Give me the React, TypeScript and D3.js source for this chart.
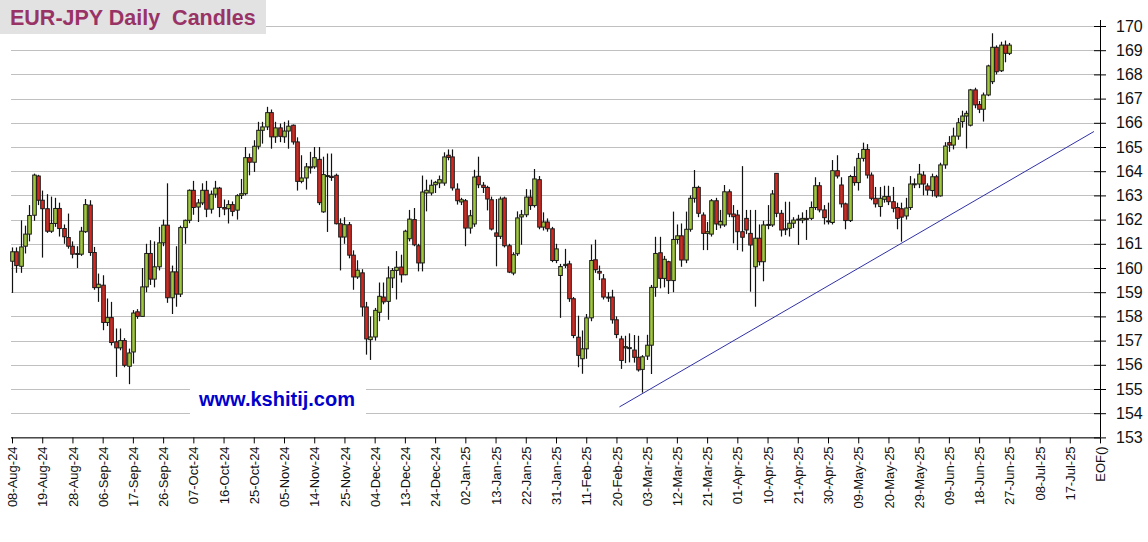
import { useEffect, useRef } from 'react';
import * as d3 from 'd3';

// trading-day index 0 = 08-Aug-24, one candle per weekday up to 27-Jun-25
const opens = [
  160.28, 160.67, 160.07, 160.9, 161.4, 162.18, 163.8, 162.8, 162.45, 161.52,
  161.84, 162.46, 161.63, 161.26, 160.9, 160.6, 160.57, 161.5, 162.6, 160.64,
  159.19, 159.29, 157.75, 157.95, 156.95, 156.7, 157.0, 155.94, 156.53, 158.19,
  158.0, 159.22, 160.6, 159.54, 160.05, 161.04, 161.77, 158.77, 159.84, 158.92,
  161.67, 161.97, 163.21, 162.52, 162.69, 163.21, 162.43, 163.05, 163.3, 162.5,
  162.45, 162.62, 162.39, 163.0, 163.07, 164.56, 164.37, 165.03, 165.69, 165.83,
  166.42, 165.42, 165.79, 165.42, 165.66, 165.9, 165.21, 163.58, 163.72, 164.18,
  164.18, 164.49, 162.32, 163.79, 163.79, 163.83, 161.83, 161.28, 161.79, 160.53,
  159.63, 159.8, 158.39, 157.04, 157.15, 158.17, 158.8, 158.62, 159.59, 159.9,
  160.04, 159.72, 161.21, 162.0, 160.92, 160.21, 163.1, 163.1, 163.44, 163.51,
  163.51, 164.66, 164.59, 163.26, 162.73, 162.78, 161.65, 161.82, 163.79, 163.42,
  163.33, 162.82, 161.45, 161.31, 162.89, 160.92, 159.79, 160.59, 162.11, 162.2,
  162.93, 162.58, 163.65, 161.69, 161.9, 161.62, 160.31, 159.69, 160.1, 160.17,
  158.73, 157.14, 156.25, 156.66, 157.94, 160.34, 159.86, 159.55, 158.8, 158.8,
  157.86, 157.07, 156.7, 156.7, 156.61, 156.31, 155.81, 156.36, 156.81, 159.2,
  160.63, 159.57, 160.26, 159.48, 161.18, 161.33, 160.33, 161.6, 162.88, 163.33,
  162.19, 161.43, 161.4, 162.78, 161.78, 161.78, 163.15, 162.23, 162.19, 161.5,
  162.05, 161.43, 160.05, 161.23, 160.26, 161.78, 161.78, 163.91, 162.26, 161.58,
  161.64, 161.85, 162.02, 161.98, 162.05, 162.05, 162.5, 163.4, 162.4, 161.95,
  161.88, 164.02, 163.43, 162.65, 161.96, 163.78, 163.53, 164.53, 164.9, 163.84,
  162.88, 162.54, 162.84, 162.95, 162.74, 162.5, 162.45, 162.15, 162.5, 163.45,
  163.47, 163.84, 163.39, 163.2, 163.77, 162.98, 164.26, 165.18, 165.08, 165.45,
  166.05, 166.28, 165.9, 167.36, 166.76, 166.56, 167.15, 167.7, 169.12, 168.15,
  169.21, 168.87,
];

const highs = [
  160.85, 160.85, 161.97, 161.75, 162.6, 163.9, 163.85, 163.2, 163.05, 162.95,
  162.9, 162.7, 161.8, 162.25, 161.1, 160.9, 161.7, 162.85, 162.8, 160.87,
  159.77, 159.7, 158.74, 158.6, 157.5, 157.5, 157.1, 156.67, 158.26, 158.3,
  160.0, 161.0, 161.15, 161.1, 161.7, 162.0, 163.5, 160.1, 160.9, 161.75,
  162.0, 163.25, 163.6, 162.85, 163.5, 163.6, 163.2, 163.6, 163.35, 162.83,
  162.8, 162.75, 163.05, 163.68, 165.0, 164.73, 165.28, 166.04, 166.04, 166.66,
  166.55, 166.04, 165.97, 166.04, 166.1, 165.93, 165.4, 164.66, 164.34, 164.8,
  165.0, 165.0, 164.6, 164.73, 164.73, 163.9, 162.05, 162.1, 161.9, 160.73,
  160.32, 159.95, 158.6, 158.0, 158.35, 159.4, 159.4, 160.07, 160.0, 160.7,
  160.55, 161.58, 162.4, 162.48, 161.0, 163.82, 163.65, 163.65, 163.6, 163.82,
  164.78, 164.9, 164.9, 163.5, 162.9, 162.85, 162.4, 164.06, 164.6, 163.55,
  163.4, 162.95, 162.85, 162.95, 162.95, 161.0, 160.65, 162.34, 162.4, 163.26,
  163.24, 164.09, 163.8, 162.3, 162.05, 161.7, 161.0, 160.17, 160.79, 160.3,
  158.8, 158.03, 157.42, 158.1, 160.97, 161.17, 160.1, 159.75, 159.0, 159.1,
  158.0, 157.2, 157.2, 157.3, 157.23, 157.2, 156.4, 157.24, 159.3, 161.29,
  161.29, 160.5, 160.3, 162.33, 161.8, 161.84, 162.33, 163.0, 164.05, 163.4,
  162.3, 161.9, 162.85, 162.9, 162.4, 163.43, 163.25, 162.6, 162.4, 164.21,
  162.4, 162.4, 162.4, 161.8, 161.95, 162.6, 163.22, 163.91, 162.4, 162.74,
  162.74, 162.1, 162.2, 162.3, 162.4, 162.75, 163.75, 163.55, 162.6, 162.7,
  164.46, 164.66, 163.75, 162.7, 163.85, 164.2, 164.75, 165.18, 165.12, 163.95,
  163.35, 163.35, 163.4, 163.4, 163.35, 162.7, 162.7, 162.9, 163.8, 163.7,
  164.3, 164.0, 163.5, 163.9, 163.85, 164.35, 165.2, 165.45, 165.8, 166.2,
  166.5, 166.5, 167.4, 167.45, 166.9, 167.25, 168.4, 169.7, 169.2, 169.35,
  169.4, 169.3,
];

const lows = [
  158.97, 159.8, 159.8, 160.6, 161.1, 161.95, 162.6, 160.43, 161.45, 161.45,
  161.7, 161.3, 161.0, 160.8, 160.4, 160.0, 160.5, 161.45, 160.5, 159.1,
  158.6, 157.43, 157.6, 156.8, 155.5, 156.6, 155.9, 155.2, 156.05, 157.9,
  158.44, 159.0, 159.3, 159.2, 159.9, 160.9, 158.56, 158.1, 158.4, 158.8,
  161.0, 161.85, 162.2, 161.9, 162.6, 162.1, 162.25, 162.9, 162.1, 162.18,
  161.84, 162.14, 162.0, 162.85, 163.0, 163.83, 163.97, 164.9, 165.14, 165.7,
  164.93, 165.17, 165.2, 165.17, 164.93, 165.1, 163.2, 163.5, 163.24, 163.9,
  164.1, 162.6, 162.28, 161.49, 163.6, 161.8, 159.9, 161.0, 160.4, 159.1,
  159.55, 158.0, 156.42, 156.2, 157.0, 157.8, 158.5, 157.86, 159.17, 158.7,
  159.4, 159.7, 161.1, 160.9, 159.86, 159.86, 162.34, 163.0, 163.1, 163.3,
  163.4, 164.45, 163.2, 162.62, 162.6, 160.9, 161.42, 161.7, 163.3, 163.1,
  162.38, 161.55, 160.07, 161.2, 160.85, 159.79, 159.7, 160.5, 160.96, 162.1,
  162.4, 162.5, 161.6, 161.55, 161.5, 160.24, 160.2, 157.94, 160.0, 158.6,
  157.1, 155.9, 155.63, 156.25, 157.8, 159.8, 159.5, 158.7, 158.6, 157.7,
  157.1, 155.83, 156.07, 156.1, 156.09, 155.72, 154.85, 156.2, 155.62, 158.81,
  159.16, 159.2, 158.93, 159.0, 161.0, 160.05, 160.2, 161.5, 162.7, 162.1,
  160.74, 160.74, 161.3, 161.57, 161.64, 161.7, 162.1, 161.02, 160.74, 160.68,
  161.4, 159.02, 158.4, 160.1, 159.45, 161.6, 161.7, 162.1, 161.3, 161.36,
  161.3, 161.65, 160.95, 161.85, 161.16, 161.98, 162.4, 162.3, 161.8, 161.8,
  161.8, 163.7, 162.5, 161.6, 161.9, 163.4, 163.2, 164.4, 163.7, 162.8,
  162.5, 162.12, 162.7, 162.6, 162.3, 161.6, 161.09, 162.0, 162.4, 163.3,
  163.3, 163.0, 163.0, 162.95, 162.9, 162.95, 164.1, 164.8, 164.9, 165.3,
  165.8, 164.94, 165.85, 166.6, 166.4, 166.05, 167.1, 167.6, 168.0, 168.1,
  168.5, 168.8,
];

const closes = [
  160.67, 160.1, 160.87, 161.4, 162.17, 163.84, 162.8, 162.45, 161.52, 161.84,
  162.46, 161.63, 161.29, 160.9, 160.57, 160.6, 161.52, 162.62, 160.64, 159.19,
  159.33, 157.75, 157.95, 156.92, 156.7, 157.0, 155.98, 156.49, 158.14, 158.0,
  159.22, 160.6, 159.54, 160.05, 161.04, 161.77, 158.77, 159.84, 158.92, 161.67,
  161.97, 163.21, 162.5, 162.69, 163.21, 162.43, 163.05, 163.3, 162.5, 162.44,
  162.62, 162.34, 162.99, 163.07, 164.56, 164.37, 165.03, 165.69, 165.83, 166.42,
  165.42, 165.79, 165.44, 165.66, 165.86, 165.21, 163.58, 163.72, 164.18, 164.15,
  164.56, 162.7, 163.86, 163.82, 163.74, 161.83, 161.28, 161.79, 160.53, 159.63,
  159.91, 158.39, 157.07, 157.15, 158.25, 158.83, 158.6, 159.59, 159.9, 160.03,
  159.72, 161.52, 162.02, 160.96, 160.21, 163.14, 163.21, 163.42, 163.54, 163.65,
  164.59, 164.57, 163.31, 162.78, 162.82, 161.65, 162.16, 163.76, 163.44, 163.33,
  162.85, 161.61, 161.31, 162.85, 160.92, 159.83, 160.55, 162.07, 162.2, 162.93,
  162.58, 163.68, 161.69, 161.9, 161.62, 160.31, 160.79, 160.06, 160.15, 158.73,
  157.21, 156.39, 156.66, 157.94, 160.31, 159.93, 159.79, 158.8, 158.76, 157.86,
  157.25, 156.18, 156.75, 156.71, 156.31, 155.79, 156.33, 156.81, 159.2, 160.6,
  159.57, 160.36, 159.48, 161.18, 161.33, 160.33, 161.6, 162.88, 163.33, 162.26,
  161.43, 161.5, 162.78, 161.82, 161.92, 163.15, 162.23, 162.12, 161.5, 161.27,
  161.57, 160.95, 161.23, 160.26, 161.78, 161.8, 163.06, 162.26, 161.57, 161.62,
  161.85, 161.98, 161.98, 162.05, 162.0, 162.5, 163.4, 162.4, 162.08, 161.91,
  164.02, 163.8, 162.65, 161.96, 163.78, 163.53, 164.53, 164.9, 163.84, 162.88,
  162.65, 162.88, 162.95, 162.74, 162.47, 162.05, 162.1, 162.48, 163.47, 163.48,
  163.88, 163.47, 163.22, 163.77, 162.98, 164.26, 165.04, 165.08, 165.45, 166.0,
  166.28, 166.39, 167.36, 166.74, 166.56, 167.15, 168.35, 169.12, 168.11, 169.21,
  168.87, 169.21,
];

// x-axis labels, one every 7 weekdays, then the end-of-file marker
const tickLabels = [
  '08-Aug-24', '19-Aug-24', '28-Aug-24', '06-Sep-24', '17-Sep-24', '26-Sep-24',
  '07-Oct-24', '16-Oct-24', '25-Oct-24', '05-Nov-24', '14-Nov-24', '25-Nov-24',
  '04-Dec-24', '13-Dec-24', '24-Dec-24', '02-Jan-25', '13-Jan-25', '22-Jan-25',
  '31-Jan-25', '11-Feb-25', '20-Feb-25', '03-Mar-25', '12-Mar-25', '21-Mar-25',
  '01-Apr-25', '10-Apr-25', '21-Apr-25', '30-Apr-25', '09-May-25', '20-May-25',
  '29-May-25', '09-Jun-25', '18-Jun-25', '27-Jun-25', '08-Jul-25', '17-Jul-25',
  'EOF()',
];

const priceTicks = d3.range(153, 171);

// support trendline: (trading-day index, price) at both ends
const trendIdx = [140.7, 250.6];
const trendPrice = [154.26, 165.64];

const FONT = 'Arial, "Liberation Sans", sans-serif';

export default function App() {
  const ref = useRef<SVGSVGElement>(null);

  useEffect(() => {
    document.body.style.margin = '0';
    const svg = d3.select(ref.current);
    svg.selectAll('*').remove();

    const width = 1148;
    const height = 542;
    svg.attr('width', width).attr('height', height);

    svg.append('rect').attr('width', width).attr('height', height).attr('fill', '#fff');

    const x = d3.scaleLinear().domain([0, 252]).range([12, 1100]);
    const y = d3.scaleLinear().domain([153, 170]).range([437.4, 26]);
    const left = 11;
    const right = x(252);

    // horizontal grid
    svg
      .append('g')
      .selectAll('line')
      .data(priceTicks)
      .join('line')
      .attr('x1', left)
      .attr('x2', right)
      .attr('y1', d => Math.round(y(d)) + 0.5)
      .attr('y2', d => Math.round(y(d)) + 0.5)
      .attr('stroke', '#c0c0c0')
      .attr('stroke-width', 1);

    // watermark box hides the grid behind it
    svg
      .append('rect')
      .attr('x', 190)
      .attr('y', 383)
      .attr('width', 176)
      .attr('height', 32)
      .attr('fill', '#fff');
    svg
      .append('text')
      .attr('x', 199)
      .attr('y', 406)
      .attr('fill', '#0000cc')
      .style('font-family', FONT)
      .style('font-weight', 'bold')
      .style('font-size', '20px')
      .text('www.kshitij.com');

    // trendline
    svg
      .append('line')
      .attr('x1', x(trendIdx[0]))
      .attr('y1', y(trendPrice[0]))
      .attr('x2', x(trendIdx[1]))
      .attr('y2', y(trendPrice[1]))
      .attr('stroke', '#3030a8')
      .attr('stroke-width', 1);

    // candles
    const idx = d3.range(closes.length);
    const half = 1.8;
    const candles = svg.append('g');
    candles
      .selectAll('line')
      .data(idx)
      .join('line')
      .attr('x1', i => Math.round(x(i)) + 0.5)
      .attr('x2', i => Math.round(x(i)) + 0.5)
      .attr('y1', i => y(Math.max(highs[i], opens[i], closes[i])))
      .attr('y2', i => y(Math.min(lows[i], opens[i], closes[i])))
      .attr('stroke', '#111')
      .attr('stroke-width', 1.2);
    candles
      .selectAll('rect')
      .data(idx)
      .join('rect')
      .attr('x', i => Math.round(x(i)) + 0.5 - half)
      .attr('width', half * 2)
      .attr('y', i => y(Math.max(opens[i], closes[i])))
      .attr('height', i => Math.max(1, Math.abs(y(opens[i]) - y(closes[i]))))
      .attr('fill', i => (closes[i] >= opens[i] ? '#a0c83c' : '#d22a22'))
      .attr('stroke', '#1a1a1a')
      .attr('stroke-width', 1);

    // right price axis
    const yAxis = svg
      .append('g')
      .attr('transform', `translate(${right},0)`)
      .call(d3.axisRight(y).tickValues(priceTicks).tickFormat(d3.format('d')).tickSize(6).tickPadding(10));
    yAxis.select('.domain').attr('d', `M0.5,20V${y(153)}`).attr('stroke', '#000');
    yAxis.selectAll('.tick').append('line').attr('x2', -6).attr('stroke', '#000');
    yAxis
      .selectAll('.tick text')
      .style('font-family', FONT)
      .style('font-size', '16px')
      .attr('fill', '#111');

    // bottom date axis
    const tickIdx = tickLabels.map((_, i) => i * 7);
    const xAxis = svg
      .append('g')
      .attr('transform', `translate(0,${y(153)})`)
      .call(
        d3
          .axisBottom(x)
          .tickValues(tickIdx)
          .tickFormat((_, i) => tickLabels[i])
          .tickSize(6)
      );
    xAxis.select('.domain').attr('d', `M${left},0.5H${right}`).attr('stroke', '#000');
    xAxis
      .selectAll('.tick text')
      .attr('transform', 'rotate(-90)')
      .attr('x', -9)
      .attr('y', 0)
      .attr('dy', '0.35em')
      .style('text-anchor', 'end')
      .style('font-family', FONT)
      .style('font-size', '13px')
      .attr('fill', '#111');

    // title
    svg.append('rect').attr('x', 0).attr('y', 0).attr('width', 266).attr('height', 34).attr('fill', '#e2e2e2');
    svg
      .append('text')
      .attr('x', 10)
      .attr('y', 25)
      .attr('fill', '#993366')
      .style('font-family', FONT)
      .style('font-weight', 'bold')
      .style('font-size', '21.5px')
      .style('white-space', 'pre')
      .text('EUR-JPY Daily  Candles');
  }, []);

  return <svg ref={ref} style={{ display: 'block' }} />;
}
